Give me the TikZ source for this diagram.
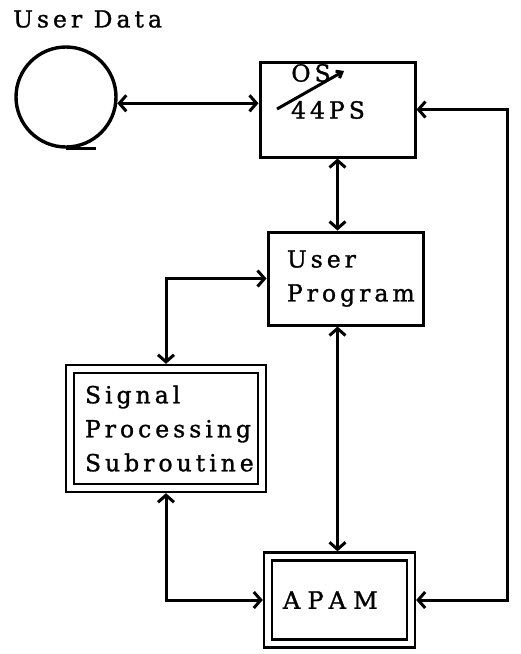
\documentclass[tikz,border=0pt]{standalone}
\usepackage{fontspec}
\setmainfont[LetterSpace=17, FakeBold=1.2]{DejaVu Serif}
\usetikzlibrary{arrows.meta}

\tikzset{
  box/.style={draw, line width=3pt, inner sep=0pt},
  dbox/.style={draw, line width=2.4pt, double, double distance=5.4pt, inner sep=0pt, outer sep=5.2pt},
  link/.style={line width=3pt, <->, >={Straight Barb[length=7pt,width=16pt]}},
}

\begin{document}
\begin{tikzpicture}[x=1pt, y=-1pt, font=\fontsize{23.5}{34}\selectfont]
  \useasboundingbox (0,0) rectangle (520,654);

  \node[anchor=west, inner sep=0pt] (title) at (13,19) {User Data};
  \node[circle, draw, line width=3.4pt, minimum size=100pt, inner sep=0pt] (tape) at (66,97) {};
  \draw[line width=3pt] (tape.south) -- ++(30,0);

  \node[box, minimum width=155pt, minimum height=95pt] (os) at (337.5,109.5) {};
  \node[inner sep=0pt] (osold) at (311,73) {OS};
  \node[inner sep=0pt] (osnew) at (328,110) {44PS};
  \draw[line width=3pt, -{Straight Barb[length=5pt,width=8pt]}] (277,109) -- (344,71);

  \node[box, minimum width=155pt, minimum height=93pt, text width=117pt, align=left] (prog) at (345.5,278.5) {User\\Program};
  \node[dbox, minimum width=192pt, minimum height=119pt, text width=162pt, align=left] (sigproc) at (166,428.5) {Signal\\Processing\\Subroutine};
  \node[dbox, minimum width=143pt, minimum height=87pt, text width=113pt, align=left, font=\fontsize{24}{34}\selectfont\addfontfeature{LetterSpace=30}] (apam) at (339.5,600) {APAM};

  \coordinate (rback) at (507,0);
  \draw[link] (tape.-7) -- (tape.-7 -| os.west);
  \draw[link] (os.east) -- (os.east -| rback) -- (apam.east -| rback) -- (apam.east);
  \draw[link] (os.south) -- (os.south |- prog.north);
  \draw[link] (os.south |- prog.south) -- (os.south |- apam.north);
  \draw[link] (prog.west) -| (sigproc.north);
  \draw[link] (sigproc.south) |- (apam.west);
\end{tikzpicture}
\end{document}
